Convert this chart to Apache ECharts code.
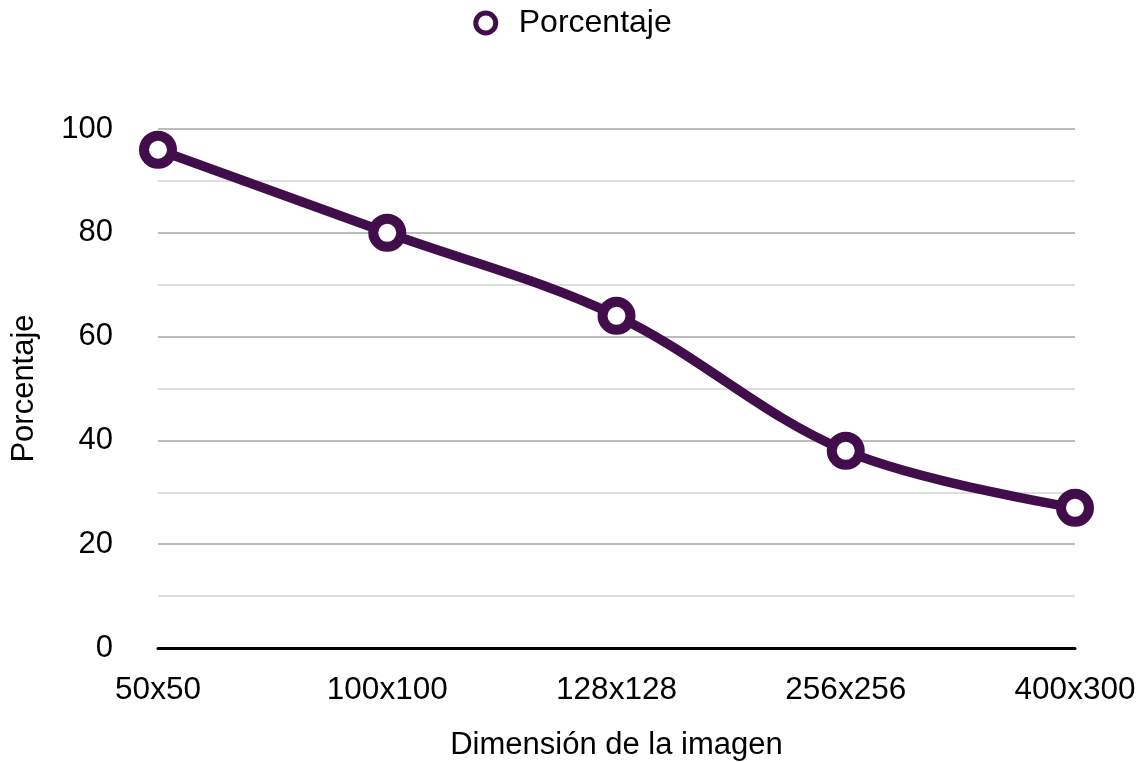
<!DOCTYPE html>
<html><head><meta charset="utf-8">
<script src="https://cdn.jsdelivr.net/npm/echarts@6/dist/echarts.min.js"></script>
<style>html,body{margin:0;padding:0;background:#fff}#c{width:1145px;height:762px}</style>
</head><body><div id="c"></div>
<script>
const categories = ['50x50','100x100','128x128','256x256','400x300'];
const porcentaje = [96, 80, 64, 38, 27];
const seriesName = 'Porcentaje';
const xTitle = 'Dimensión de la imagen';
const yTitle = 'Porcentaje';
const FONT = '"Liberation Sans", Arial, Helvetica, sans-serif';
const COLOR = '#420D4B';
const chart = echarts.init(document.getElementById('c'), null, {renderer:'canvas'});
chart.setOption({
  animation:false,
  textStyle:{fontFamily:FONT},
  legend:{top:2, left:'center', icon:'circle', itemWidth:20, itemHeight:20,
    itemStyle:{color:'#fff', borderColor:COLOR, borderWidth:5},
    textStyle:{fontSize:32, color:'#000', fontFamily:FONT, padding:[0,0,0,18]},
    data:[seriesName]},
  grid:{left:158, right:70, top:129, bottom:114, containLabel:false, outerBoundsMode:'none'},
  xAxis:{type:'category', data:categories, boundaryGap:false,
    axisLine:{lineStyle:{color:'#000', width:3}}, axisTick:{show:false},
    axisLabel:{fontSize:31.5, color:'#000', margin:26, fontFamily:FONT},
    name:xTitle, nameLocation:'middle', nameGap:82,
    nameTextStyle:{fontSize:31, color:'#000', fontFamily:FONT}},
  yAxis:{type:'value', min:0, max:100, interval:20,
    axisLine:{show:false}, axisTick:{show:false},
    axisLabel:{fontSize:31, color:'#000', margin:45, fontFamily:FONT},
    splitLine:{lineStyle:{color:'#bcbcbc', width:2}},
    minorTick:{show:false, splitNumber:2},
    minorSplitLine:{show:true, lineStyle:{color:'#d4d4d4', width:1.5}},
    name:yTitle, nameLocation:'middle', nameGap:118,
    nameTextStyle:{fontSize:31, color:'#000', fontFamily:FONT}},
  series:[{name:seriesName, type:'line', data:porcentaje, smooth:0.35,
    symbol:'circle', symbolSize:28, z:3,
    lineStyle:{color:COLOR, width:9.5},
    itemStyle:{color:'#fff', borderColor:COLOR, borderWidth:10}}]
});
</script></body></html>
